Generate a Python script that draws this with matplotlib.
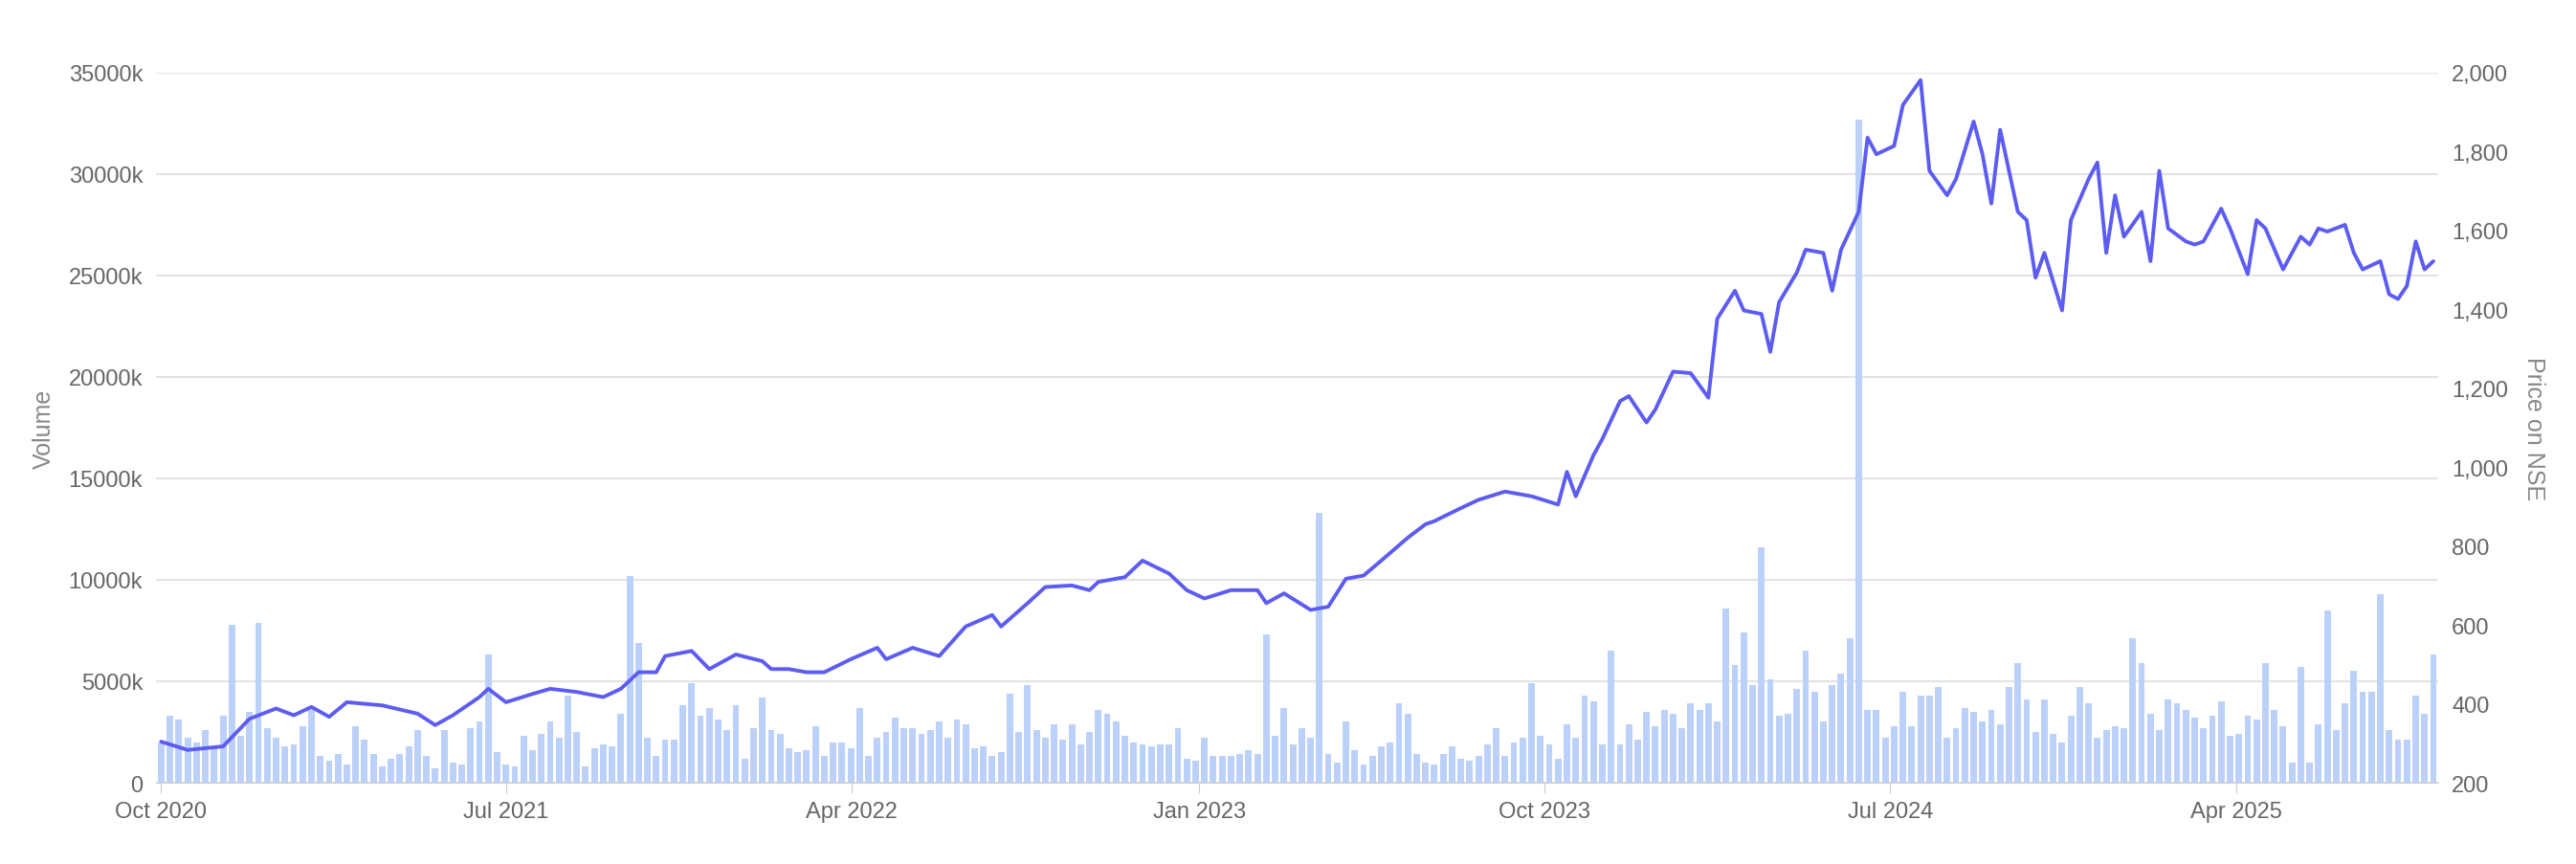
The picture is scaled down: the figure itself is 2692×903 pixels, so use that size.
import matplotlib
matplotlib.use("Agg")
import matplotlib.pyplot as plt
import matplotlib.dates as mdates
import matplotlib.ticker as mticker
import numpy as np
import pandas as pd

plt.rcParams['font.family'] = ['Liberation Sans', 'DejaVu Sans']

start_date = "2020-10-01"

volume_k = [2000,3300,3100,2200,2000,2600,1800,3300,7800,
            2300,3500,7900,
            2700,2200,1800,1900,2800,3600,1300,1100,1400,900,2800,2100,1400,800,1200,1400,1800,2600,1300,700,2600,1000,900,2700,3000,
            6300,
            1500,900,800,2300,1600,2400,3000,2200,4300,2500,800,1700,1900,1800,3400,
            10200,6900,
            2200,1300,2100,2100,3800,4900,3300,3700,3100,2600,
            3800,1200,2700,4200,2600,2400,1700,1500,1600,2800,
            1300,2000,2000,1700,3700,1300,2200,2500,3200,2700,
            2700,2400,2600,3000,2200,3100,2900,1700,1800,1300,
            1500,4400,2500,4800,2600,2200,2900,2100,2900,1900,
            2500,3600,3400,3000,2300,2000,1900,1800,1900,1900,
            2700,1200,1100,2200,1300,1300,1300,1400,1600,1400,
            7300,
            2300,3700,1900,2700,2200,
            13300,
            1400,1000,3000,1600,900,1300,1800,2000,3900,3400,1400,1000,900,1400,1800,1200,1100,1300,1900,2700,1300,2000,2200,
            4900,
            2300,1900,1200,2900,2200,4300,4000,1900,
            6500,
            1900,2900,2100,3500,2800,3600,3400,2700,3900,3600,3900,3000,
            8600,
            5800,7400,4800,
            11600,
            5100,3300,3400,4600,6500,4500,3000,4800,5400,7100,
            32700,
            3600,3600,2200,2800,4500,2800,4300,4300,4700,2200,2700,3700,3500,3000,3600,2900,4700,
            5900,
            4100,2500,4100,2400,2000,3300,4700,3900,2200,2600,2800,2700,
            7100,
            5900,3400,2600,4100,3900,3600,3200,2700,3300,4000,2300,2400,3300,3100,5900,3600,2800,1000,5700,1000,2900,
            8500,
            2600,3900,5500,4500,4500,
            9300,
            2600,2100,2100,4300,3400,
            6300]

price_week = [0,3,7,10,13,15,17,19,21,25,29,31,33,36,37,39,42,44,47,50,52,54,56,57,60,62,65,68,69,71,73,75,78,81,82,85,88,91,94,95,98,100,103,105,106,109,111,114,116,118,121,124,125,127,130,132,134,136,138,141,143,144,147,149,152,155,158,159,160,162,163,165,166,168,169,171,173,175,176,178,179,181,182,183,185,186,188,189,190,192,193,194,196,197,199,200,202,203,205,206,207,208,210,211,212,213,215,216,218,219,220,221,222,224,225,226,227,229,230,231,233,234,236,237,238,240,242,243,244,245,247,248,249,251,252,253,254,255,256,257]
price = [304,283,292,362,388,371,392,367,404,396,375,346,371,417,438,404,425,438,430,417,438,480,480,521,534,488,525,508,488,488,480,480,513,542,513,542,521,596,625,596,655,696,700,688,709,721,763,730,688,667,688,688,655,680,638,646,717,725,763,821,855,863,896,917,938,926,905,988,926,1030,1071,1167,1180,1113,1146,1242,1238,1176,1376,1447,1397,1388,1292,1418,1493,1551,1543,1447,1551,1647,1835,1793,1814,1918,1981,1751,1689,1730,1876,1793,1668,1855,1647,1626,1480,1543,1397,1626,1730,1772,1543,1689,1584,1647,1522,1751,1605,1572,1564,1572,1655,1605,1489,1626,1605,1501,1584,1564,1605,1597,1614,1543,1501,1522,1438,1426,1459,1572,1501,1522]

t0 = pd.Timestamp(start_date)
vol_dates = t0 + pd.to_timedelta(np.arange(len(volume_k)) * 7, unit="D")
price_dates = t0 + pd.to_timedelta(np.array(price_week) * 7, unit="D")

fig = plt.figure(figsize=(26.92, 9.04), dpi=100)
ax = fig.add_axes([0.0606, 0.094, 0.886, 0.821])
ax2 = ax.twinx()

grid_c = "#e3e3e3"
txt_c = "#666666"

ax.bar(vol_dates, np.array(volume_k) * 1000, width=5.2, color="#bcd1fa", zorder=2)
ax2.plot(price_dates, price, color="#5d5cf2", lw=2.8, zorder=3,
         solid_joinstyle="round", solid_capstyle="round")

ax.set_ylim(0, 35000000)
ax2.set_ylim(200, 2000)
ax.set_xlim(vol_dates[0] - pd.Timedelta(days=4), vol_dates[-1] + pd.Timedelta(days=4))

ax.set_yticks(np.arange(0, 35000001, 5000000))
ax.yaxis.set_major_formatter(mticker.FuncFormatter(lambda v, p: "0" if v == 0 else f"{int(v/1000)}k"))
ax2.set_yticks(np.arange(200, 2001, 200))
ax2.yaxis.set_major_formatter(mticker.FuncFormatter(lambda v, p: f"{int(v):,}"))

ax.grid(axis="y", color=grid_c, lw=1.5, zorder=0)
ax.set_axisbelow(True)
xt = pd.to_datetime(["2020-10-01", "2021-07-01", "2022-04-01", "2023-01-01", "2023-10-01", "2024-07-01", "2025-04-01"])
ax.set_xticks(xt)
ax.xaxis.set_major_formatter(mdates.DateFormatter("%b %Y"))

for a in (ax, ax2):
    for s in a.spines.values():
        s.set_visible(False)
    a.tick_params(colors=txt_c, labelsize=17, length=0)
ax.spines["bottom"].set_visible(True)
ax.spines["bottom"].set_color("#cccccc")
ax.tick_params(axis="x", length=8, color="#cccccc", pad=6)
ax.tick_params(axis="y", pad=10)
ax2.tick_params(axis="y", pad=10)

ax.set_ylabel("Volume", color="#888888", fontsize=18, labelpad=10)
ax2.set_ylabel("Price on NSE", color="#888888", fontsize=18, rotation=270, labelpad=28)

fig.savefig("out.png", dpi=100)
